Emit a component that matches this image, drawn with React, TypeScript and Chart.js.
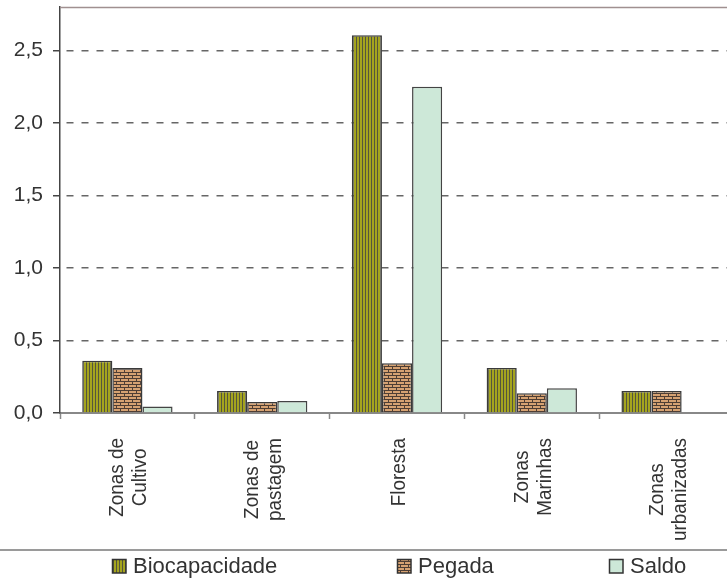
import React, { useEffect, useRef } from "react";
import { Chart, registerables } from "chart.js";

Chart.register(...registerables);

const categories: string[][] = [
  ["Zonas de", "Cultivo"],
  ["Zonas de", "pastagem"],
  ["Floresta"],
  ["Zonas", "Marinhas"],
  ["Zonas", "urbanizadas"],
];
const seriesNames = ["Biocapacidade", "Pegada", "Saldo"];
const biocapacidade = [0.36, 0.152, 2.605, 0.31, 0.152];
const pegada = [0.31, 0.076, 0.343, 0.136, 0.152];
const saldo = [0.045, 0.083, 2.25, 0.17, 0];
const yTicks = [0, 0.5, 1.0, 1.5, 2.0, 2.5];

const FONT = "'Liberation Sans', Arial, Helvetica, sans-serif";
const TEXT = "#333333";

function makeStripes(): CanvasPattern | string {
  const c = document.createElement("canvas");
  c.width = 3;
  c.height = 4;
  const g = c.getContext("2d")!;
  g.fillStyle = "#a4a41e";
  g.fillRect(0, 0, 3, 4);
  g.fillStyle = "#55553c";
  g.fillRect(2, 0, 1, 4);
  return g.createPattern(c, "repeat") || "#a4a41e";
}

function makeBricks(): CanvasPattern | string {
  const c = document.createElement("canvas");
  c.width = 8;
  c.height = 6;
  const g = c.getContext("2d")!;
  g.fillStyle = "#d6a272";
  g.fillRect(0, 0, 8, 6);
  g.fillStyle = "#4e3e34";
  g.fillRect(0, 0, 8, 1);
  g.fillRect(0, 3, 8, 1);
  g.fillRect(0, 1, 1, 2);
  g.fillRect(4, 4, 1, 2);
  return g.createPattern(c, "repeat") || "#d6a272";
}

export default function App() {
  const ref = useRef<HTMLCanvasElement>(null);

  useEffect(() => {
    if (!ref.current) return;
    const stripes = makeStripes();
    const bricks = makeBricks();
    const saldoFill = "#cde8d8";
    const fills = [stripes, bricks, saldoFill];

    const overlay = {
      id: "overlay",
      afterDraw(chart: any) {
        const ctx = chart.ctx as CanvasRenderingContext2D;
        const area = chart.chartArea;
        const xs = chart.scales.x;
        ctx.save();
        ctx.strokeStyle = "#a09090";
        ctx.lineWidth = 1.5;
        ctx.beginPath();
        ctx.moveTo(area.left, area.top + 0.5);
        ctx.lineTo(area.right, area.top + 0.5);
        ctx.stroke();

        const fontSize = 21;
        const squeeze = 0.9;
        const L = 23;
        const cap = 15;
        const topY = 438;
        ctx.font = `${fontSize}px ${FONT}`;
        ctx.fillStyle = TEXT;
        ctx.textAlign = "center";
        ctx.textBaseline = "alphabetic";
        categories.forEach((lines, i) => {
          const cx = xs.getPixelForValue(i);
          const n = lines.length;
          const maxW = Math.max(...lines.map((l) => ctx.measureText(l).width)) * squeeze;
          const cy = topY + maxW / 2;
          const start = cx - ((n - 1) * L + cap) / 2 + cap;
          lines.forEach((line, j) => {
            ctx.save();
            ctx.translate(start + j * L, cy);
            ctx.rotate(-Math.PI / 2);
            ctx.scale(squeeze, 1);
            ctx.fillText(line, 0, 0);
            ctx.restore();
          });
        });

        ctx.strokeStyle = "#9a9a9a";
        ctx.lineWidth = 2;
        ctx.beginPath();
        ctx.moveTo(0, 550);
        ctx.lineTo(740, 550);
        ctx.stroke();
        const boxX = [112, 397, 609];
        ctx.font = `22px ${FONT}`;
        ctx.textAlign = "left";
        ctx.textBaseline = "alphabetic";
        chart.data.datasets.forEach((ds: any, i: number) => {
          const bx = boxX[i];
          const by = 559;
          ctx.fillStyle = fills[i] as any;
          ctx.fillRect(bx, by, 14, 14);
          ctx.strokeStyle = "#333";
          ctx.lineWidth = 1.5;
          ctx.strokeRect(bx + 0.5, by + 0.5, 13.5, 13.5);
          ctx.fillStyle = TEXT;
          ctx.fillText(ds.label, bx + 21, 573);
        });
        ctx.restore();
      },
    };

    const chart = new Chart(ref.current, {
      type: "bar",
      data: {
        labels: categories.map((c) => c.join(" ")),
        datasets: [
          {
            label: seriesNames[0],
            data: biocapacidade,
            backgroundColor: stripes as any,
            borderColor: "#3a3a3a",
            borderWidth: 1.5,
            borderSkipped: "bottom",
          },
          {
            label: seriesNames[1],
            data: pegada,
            backgroundColor: bricks as any,
            borderColor: "#3a3a3a",
            borderWidth: 1.5,
            borderSkipped: "bottom",
          },
          {
            label: seriesNames[2],
            data: saldo,
            backgroundColor: saldoFill,
            borderColor: "#444444",
            borderWidth: 1.5,
            borderSkipped: "bottom",
          },
        ],
      },
      options: {
        responsive: false,
        animation: false,
        layout: { padding: { top: 7, left: 0, right: 0, bottom: 0 } },
        datasets: { bar: { categoryPercentage: 0.67, barPercentage: 1 } },
        plugins: {
          legend: { display: false },
          tooltip: { enabled: false },
          title: { display: false },
        },
        scales: {
          x: {
            offset: true,
            ticks: { display: false },
            grid: {
              display: true,
              offset: true,
              drawOnChartArea: false,
              drawTicks: true,
              tickLength: 6,
              tickColor: "#888888",
              tickWidth: 1.5,
            },
            border: { display: true, color: "#888888", width: 2 },
            afterFit: (s: any) => {
              s.height = 169;
              s.paddingLeft = 0;
              s.paddingRight = 0;
            },
          },
          y: {
            min: 0,
            max: 2.8,
            afterBuildTicks: (s: any) => {
              s.ticks = yTicks.map((v) => ({ value: v }));
            },
            ticks: {
              font: { family: FONT, size: 21 },
              color: TEXT,
              padding: 10,
              callback: (v: any) => Number(v).toFixed(1).replace(".", ","),
            },
            grid: {
              color: (c: any) => (c.tick && c.tick.value === 0 ? "rgba(0,0,0,0)" : "#666666"),
              lineWidth: 1.5,
              tickColor: "#444444",
              tickLength: 7,
              tickWidth: 1.5,
            },
            border: { display: true, color: "#444444", width: 1.5, dash: [7, 8], dashOffset: -6 },
            afterFit: (s: any) => {
              s.width = 60;
              s.paddingTop = 0;
              s.paddingBottom = 0;
            },
          },
        },
      },
      plugins: [overlay],
    });
    return () => chart.destroy();
  }, []);

  return (
    <div
      style={{
        position: "absolute",
        left: 0,
        top: 0,
        width: 727,
        height: 582,
        overflow: "hidden",
        background: "#ffffff",
      }}
    >
      <canvas ref={ref} width={734} height={582} style={{ display: "block" }} />
    </div>
  );
}
